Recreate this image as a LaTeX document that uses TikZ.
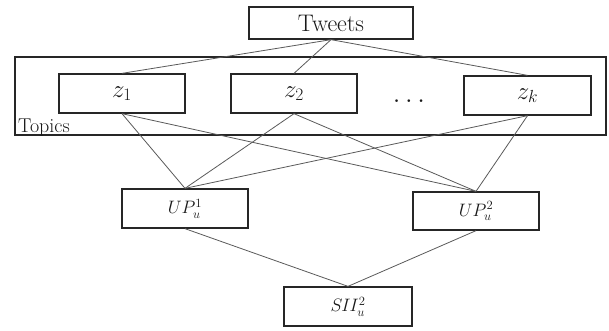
\RequirePackage{fix-cm}
\documentclass[tikz,border=0pt]{standalone}
\begin{document}
\begin{tikzpicture}[x=1pt,y=-1pt,
  box/.style={draw=black!85, line width=1.3pt, rectangle, inner sep=0pt, text=black!90},
  link/.style={draw=black!65, line width=0.8pt},
  big/.style={font=\fontsize{24}{28}\selectfont},
  zfont/.style={font=\fontsize{25}{30}\selectfont},
  upfont/.style={font=\fontsize{18}{22}\selectfont}]
\useasboundingbox (0,0) rectangle (609,330);
% outer topics box
\node[box, minimum width=591pt, minimum height=78pt] (topics) at (310.5,96) {};
\node[anchor=base west, inner sep=0pt, text=black!90, font=\fontsize{20}{24}\selectfont] (tlabel) at (18,132) {Topics};
% nodes
\node[box, big, minimum width=164pt, minimum height=32pt] (tweets) at (331,23) {Tweets};
\node[box, zfont, minimum width=126pt, minimum height=39pt] (z1) at (122,93.5) {$z_1$};
\node[box, zfont, minimum width=126pt, minimum height=39pt] (z2) at (294,93.5) {$z_2$};
\node[box, zfont, minimum width=127pt, minimum height=39pt] (zk) at (527.5,95.5) {$z_k$};
\node[anchor=base, inner sep=0pt, text=black!90, font=\fontsize{28}{32}\selectfont] (dots) at (409,102) {$\ldots$};
\node[box, upfont, minimum width=126pt, minimum height=39pt] (up1) at (185,208.5) {$UP_u^1$};
\node[box, upfont, minimum width=126pt, minimum height=38pt] (up2) at (476,211) {$UP_u^2$};
\node[box, upfont, minimum width=128pt, minimum height=39pt] (sii) at (348,306.5) {$S\mkern-1mu I\mkern-1mu I_u^2$};
% connectors
\draw[link] (tweets.south) -- (z1.north);
\draw[link] (tweets.south) -- (z2.north);
\draw[link] (tweets.south) -- (zk.north);
\draw[link] (z1.south) -- (up1.north);
\draw[link] (z1.south) -- (up2.north);
\draw[link] (z2.south) -- (up1.north);
\draw[link] (z2.south) -- (up2.north);
\draw[link] (zk.south) -- (up1.north);
\draw[link] (zk.south) -- (up2.north);
\draw[link] (up1.south) -- (sii.north);
\draw[link] (up2.south) -- (sii.north);
\end{tikzpicture}
\end{document}
